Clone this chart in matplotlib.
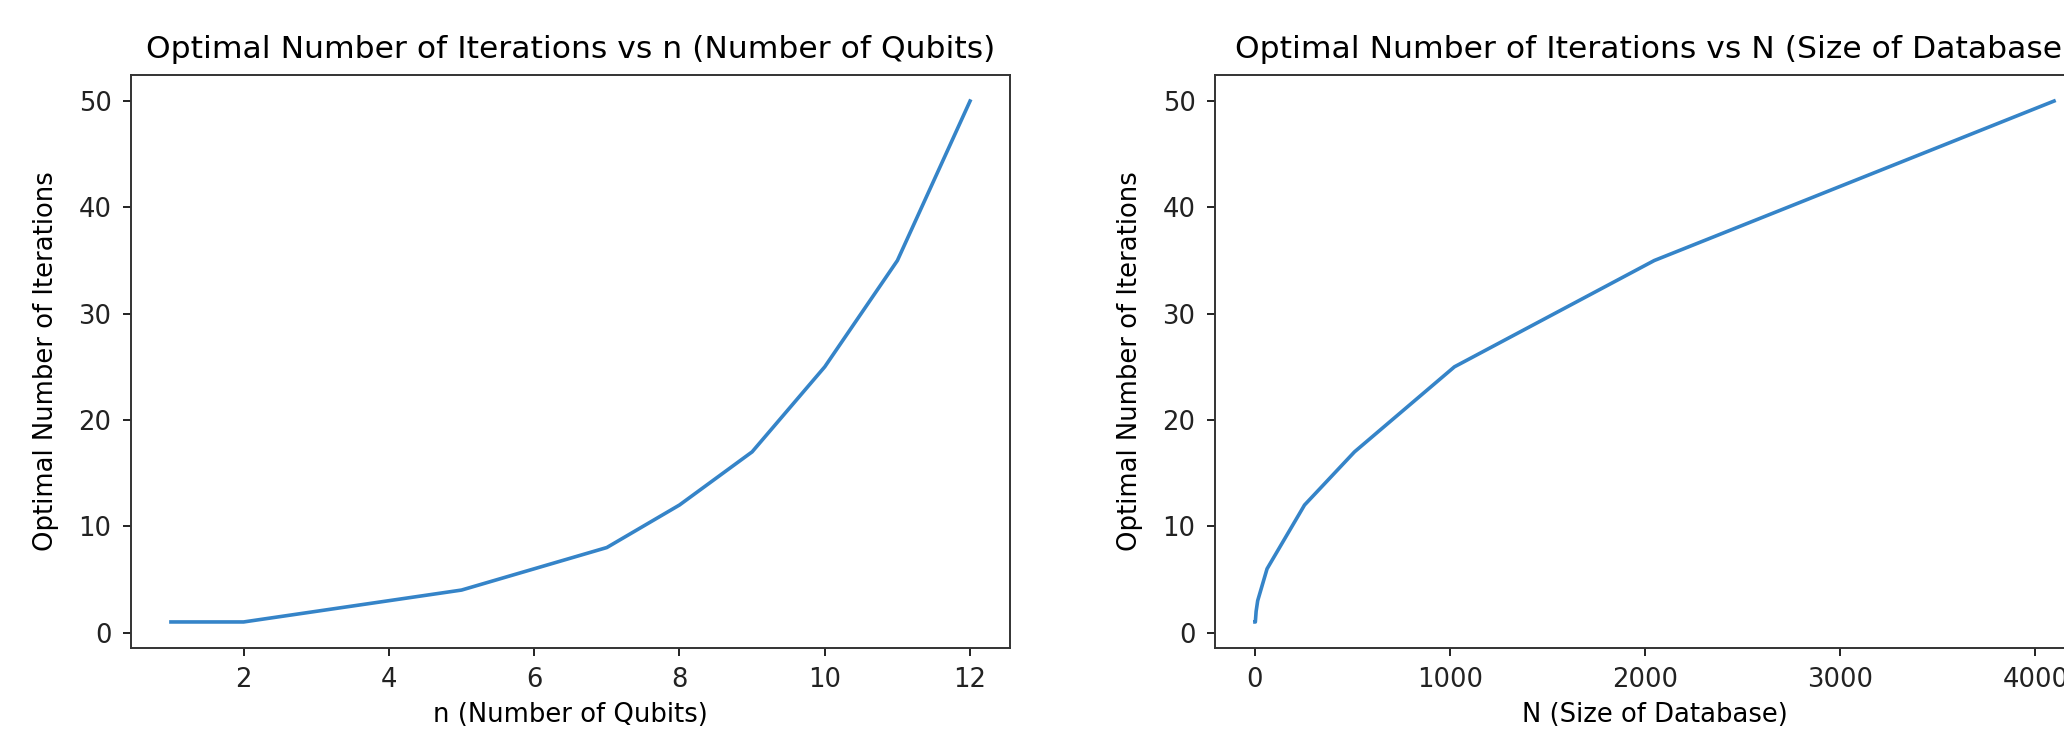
import matplotlib
matplotlib.use("Agg")
import matplotlib.pyplot as plt

# number of qubits, database size and optimal Grover iteration counts
n_qubits = [1, 2, 3, 4, 5, 6, 7, 8, 9, 10, 11, 12]
db_size = [2, 4, 8, 16, 32, 64, 128, 256, 512, 1024, 2048, 4096]
iterations = [1, 1, 2, 3, 4, 6, 8, 12, 17, 25, 35, 50]

LINE_COLOR = "#3584c8"
FS = 18.6
TITLE_FS = 22.6

plt.rcParams["font.family"] = "DejaVu Sans"
plt.rcParams["axes.linewidth"] = 1.4
plt.rcParams["xtick.major.size"] = 6
plt.rcParams["ytick.major.size"] = 6
plt.rcParams["xtick.major.width"] = 1.4
plt.rcParams["ytick.major.width"] = 1.4
plt.rcParams["xtick.major.pad"] = 8
plt.rcParams["ytick.major.pad"] = 8

W, H = 2064, 730
fig = plt.figure(figsize=(W / 100, H / 100), dpi=100)

ax1 = fig.add_axes([131 / W, (H - 648) / H, 879 / W, 573 / H])
ax2 = fig.add_axes([1215 / W, (H - 648) / H, 879 / W, 573 / H])

ax1.plot(n_qubits, iterations, color=LINE_COLOR, lw=2.6)
ax1.set_xticks([2, 4, 6, 8, 10, 12])
ax1.set_title("Optimal Number of Iterations vs n (Number of Qubits)", fontsize=TITLE_FS, pad=12)
ax1.set_xlabel("n (Number of Qubits)", fontsize=FS, labelpad=6)
ax1.set_ylabel("Optimal Number of Iterations", fontsize=FS, labelpad=14)

ax2.plot(db_size, iterations, color=LINE_COLOR, lw=2.6)
ax2.set_title("Optimal Number of Iterations vs N (Size of Database)", fontsize=TITLE_FS, pad=12)
ax2.set_xlabel("N (Size of Database)", fontsize=FS, labelpad=6)
ax2.set_ylabel("Optimal Number of Iterations", fontsize=FS, labelpad=14)

for ax in (ax1, ax2):
    ax.tick_params(labelsize=FS, colors="#222222")
    for s in ax.spines.values():
        s.set_color("#333333")

fig.savefig("out.png", dpi=100)
